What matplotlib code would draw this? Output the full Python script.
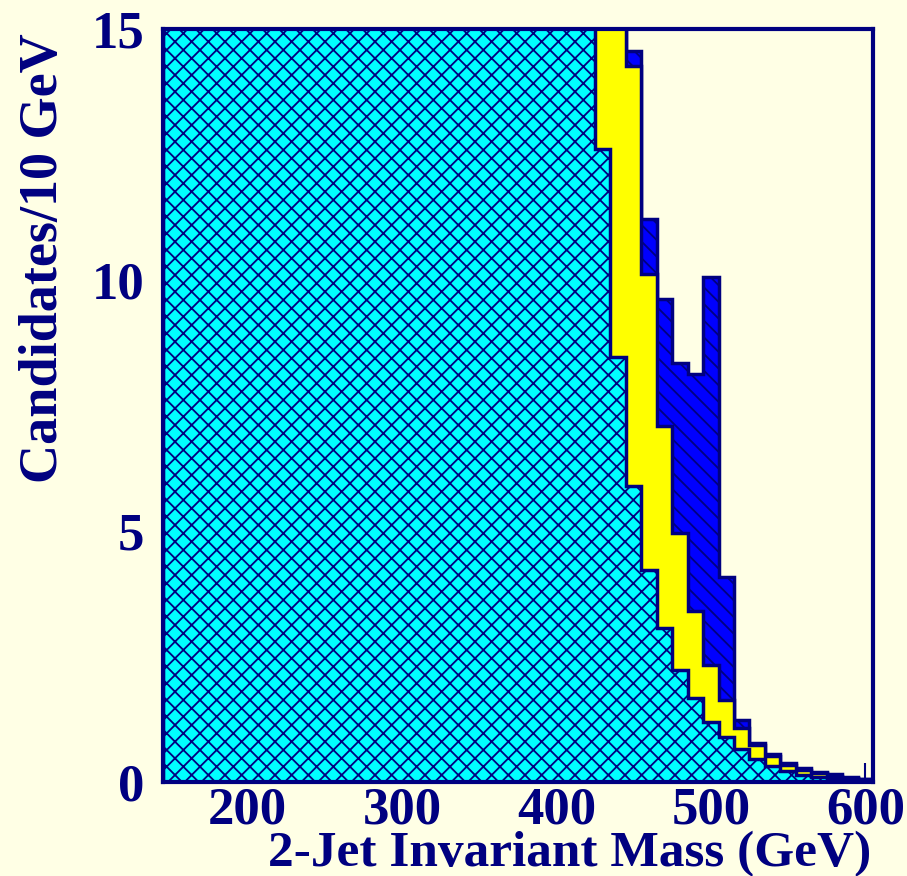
import numpy as np
import matplotlib
matplotlib.use("Agg")
import matplotlib.pyplot as plt

# 10 GeV bins from 145 to 605 GeV
bin_edges = np.arange(145, 606, 10)

# bins below ~425 GeV run off the top of the plot (values there are only rough)
cyan_bkg = [95, 90, 84, 78, 72, 66, 61, 56, 52, 48, 44, 41, 38, 35, 32,
            30, 28, 26, 24.5, 23, 22, 21, 20, 19.5, 18.5, 17.5, 16.5, 15.5,
            12.6, 8.46, 5.89, 4.23, 3.07, 2.23, 1.68, 1.20, 0.90, 0.66,
            0.46, 0.32, 0.22, 0.14, 0.10, 0.07, 0.05, 0.03]
yellow_top = [99, 94, 88, 82, 76, 70, 65, 60, 56, 52, 48, 45, 42, 39, 36,
              34, 32, 30, 28.5, 27, 26, 25, 24, 23, 22, 21, 20, 19,
              17.5, 15.6, 14.27, 10.11, 7.09, 4.97, 3.40, 2.33, 1.63, 1.08,
              0.74, 0.52, 0.34, 0.24, 0.17, 0.12, 0.08, 0.05]
blue_top = [100, 95, 89, 83, 77, 71, 66, 61, 57, 53, 49, 46, 43, 40, 37,
            35, 33, 31, 29.5, 28, 27, 26, 25, 24, 23, 22, 21, 20,
            18.5, 16.5, 14.57, 11.22, 9.63, 8.35, 8.12, 10.06, 4.08, 1.24,
            0.78, 0.56, 0.38, 0.28, 0.20, 0.15, 0.10, 0.06]

navy = "#000080"
bg = "#ffffe5"
plt.rcParams["font.family"] = ["Liberation Serif", "DejaVu Serif"]
plt.rcParams["font.weight"] = "bold"
plt.rcParams["hatch.linewidth"] = 1.3

fig = plt.figure(figsize=(9.07, 8.76), dpi=100, facecolor=bg)
ax = fig.add_axes([162.5 / 907, 1 - 782 / 876, (873 - 162.5) / 907, (782 - 29) / 876])
ax.set_facecolor(bg)

ax.stairs(blue_top, bin_edges, fill=True, facecolor="#0000ff", edgecolor=navy,
          hatch="\\\\", linewidth=2.5, zorder=1)
ax.stairs(yellow_top, bin_edges, fill=True, facecolor="#ffff00", edgecolor=navy,
          linewidth=2.5, zorder=2)
ax.stairs(cyan_bkg, bin_edges, fill=True, facecolor="#00ffff", edgecolor=navy,
          hatch="xx", linewidth=2.5, zorder=3)

ax.set_xlim(145, 605)
ax.set_ylim(0, 15)
ax.set_xticks([200, 300, 400, 500, 600])
ax.set_xticks(np.arange(150, 605, 50), minor=True)
ax.set_yticks([0, 5, 10, 15])
ax.set_yticks(np.arange(0, 15.1, 2.5), minor=True)
ax.tick_params(which="both", direction="in", color=navy, width=1.5,
               labelcolor=navy, labelsize=38, top=False, right=False)
ax.tick_params(which="major", length=14)
ax.tick_params(which="minor", length=7)
ax.tick_params(axis="x", pad=3)
ax.tick_params(axis="y", pad=13)
for lab in ax.get_xticklabels() + ax.get_yticklabels():
    lab.set_fontweight("bold")
for sp in ax.spines.values():
    sp.set_color(navy)
    sp.set_linewidth(3)
    sp.set_zorder(5)

fig.text(871 / 907, 1 - 866 / 876, "2-Jet Invariant Mass (GeV)", ha="right",
         va="baseline", fontsize=37, fontweight="bold", color=navy)
fig.text(69 / 907, 1 - 33 / 876, "Candidates/10 GeV", ha="right", va="top",
         rotation=90, fontsize=39, fontweight="bold", color=navy)

fig.savefig("out.png", dpi=100, facecolor=bg)
